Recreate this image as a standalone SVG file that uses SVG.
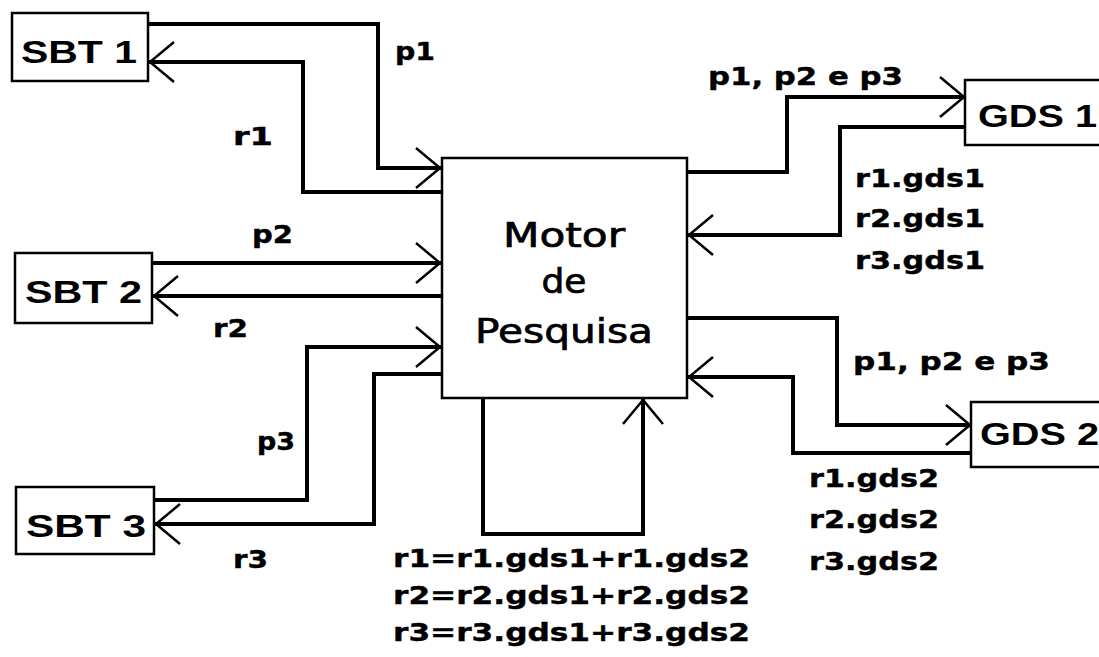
<svg xmlns="http://www.w3.org/2000/svg" width="1099" height="657" viewBox="0 0 1099 657">
<style>
.box{fill:#fff;stroke:#000;stroke-width:2.5}
.name{font-family:"Liberation Sans",Arial,sans-serif;font-weight:bold;font-size:31px;fill:#000}
.motor{font-family:"DejaVu Sans",Verdana,sans-serif;font-size:33px;fill:#000;stroke:#000;stroke-width:0.7;text-anchor:middle}
.lbl{font-family:"DejaVu Sans",Verdana,sans-serif;font-weight:bold;font-size:24px;fill:#000;stroke:#000;stroke-width:0.4}
.ln{fill:none;stroke:#000;stroke-width:4;stroke-linejoin:miter;stroke-linecap:square}
</style>
<defs>
<marker id="arr" markerUnits="userSpaceOnUse" markerWidth="40" markerHeight="50" viewBox="-30 -25 40 50" refX="0" refY="0" orient="auto" overflow="visible">
<path d="M-24,-20 L0,0 L-24,20" fill="none" stroke="#000" stroke-width="2.5"/>
</marker>
</defs>
<rect width="1099" height="657" fill="#fff"/>
<g id="connectors">
<path class="ln" d="M150,24 H378 V168 H440" marker-end="url(#arr)"/>
<path class="ln" d="M442,192 H303 V62 H150" marker-end="url(#arr)"/>
<path class="ln" d="M153,263 H440" marker-end="url(#arr)"/>
<path class="ln" d="M442,296 H154" marker-end="url(#arr)"/>
<path class="ln" d="M155,500 H307 V347 H440" marker-end="url(#arr)"/>
<path class="ln" d="M442,374 H374 V524 H156" marker-end="url(#arr)"/>
<path class="ln" d="M687,172 H787 V97 H964" marker-end="url(#arr)"/>
<path class="ln" d="M965,127 H840 V235 H689" marker-end="url(#arr)"/>
<path class="ln" d="M687,318 H837 V425 H970" marker-end="url(#arr)"/>
<path class="ln" d="M971,453 H793 V377 H689" marker-end="url(#arr)"/>
<path class="ln" d="M483,400 V534 H643 V400" marker-end="url(#arr)"/>
</g>
<g id="sbt1">
<rect class="box" x="12" y="13" width="136" height="68"/>
<text class="name" x="21" y="63" textLength="116" lengthAdjust="spacingAndGlyphs">SBT 1</text>
</g>
<g id="sbt2">
<rect class="box" x="15" y="253" width="137" height="70"/>
<text class="name" x="25" y="303" textLength="117" lengthAdjust="spacingAndGlyphs">SBT 2</text>
</g>
<g id="sbt3">
<rect class="box" x="16" y="487" width="138" height="67"/>
<text class="name" x="26" y="537" textLength="120" lengthAdjust="spacingAndGlyphs">SBT 3</text>
</g>
<g id="motor">
<rect class="box" x="442" y="158" width="245" height="240"/>
<text class="motor" x="564" y="247" textLength="122" lengthAdjust="spacingAndGlyphs">Motor</text>
<text class="motor" x="564" y="293" textLength="45" lengthAdjust="spacingAndGlyphs">de</text>
<text class="motor" x="564" y="343" textLength="178" lengthAdjust="spacingAndGlyphs">Pesquisa</text>
</g>
<g id="gds1">
<rect class="box" x="965" y="80" width="145" height="65"/>
<text class="name" x="978" y="127" textLength="119" lengthAdjust="spacingAndGlyphs">GDS 1</text>
</g>
<g id="gds2">
<rect class="box" x="971" y="402" width="140" height="65"/>
<text class="name" x="980" y="445" textLength="119" lengthAdjust="spacingAndGlyphs">GDS 2</text>
</g>
<g id="labels">
<text class="lbl" x="395" y="60" textLength="40" lengthAdjust="spacingAndGlyphs">p1</text>
<text class="lbl" x="233" y="145" textLength="40" lengthAdjust="spacingAndGlyphs">r1</text>
<text class="lbl" x="252" y="243" textLength="41" lengthAdjust="spacingAndGlyphs">p2</text>
<text class="lbl" x="213" y="337" textLength="35" lengthAdjust="spacingAndGlyphs">r2</text>
<text class="lbl" x="257" y="450" textLength="38" lengthAdjust="spacingAndGlyphs">p3</text>
<text class="lbl" x="233" y="568" textLength="35" lengthAdjust="spacingAndGlyphs">r3</text>
<text class="lbl" x="708" y="85" textLength="195" lengthAdjust="spacingAndGlyphs">p1, p2 e p3</text>
<text class="lbl" x="855" y="187" textLength="130" lengthAdjust="spacingAndGlyphs">r1.gds1</text>
<text class="lbl" x="855" y="227" textLength="130" lengthAdjust="spacingAndGlyphs">r2.gds1</text>
<text class="lbl" x="855" y="269" textLength="130" lengthAdjust="spacingAndGlyphs">r3.gds1</text>
<text class="lbl" x="853" y="370" textLength="197" lengthAdjust="spacingAndGlyphs">p1, p2 e p3</text>
<text class="lbl" x="809" y="487" textLength="130" lengthAdjust="spacingAndGlyphs">r1.gds2</text>
<text class="lbl" x="809" y="528" textLength="130" lengthAdjust="spacingAndGlyphs">r2.gds2</text>
<text class="lbl" x="809" y="570" textLength="130" lengthAdjust="spacingAndGlyphs">r3.gds2</text>
<text class="lbl" x="393" y="567" textLength="357" lengthAdjust="spacingAndGlyphs">r1=r1.gds1+r1.gds2</text>
<text class="lbl" x="393" y="604" textLength="357" lengthAdjust="spacingAndGlyphs">r2=r2.gds1+r2.gds2</text>
<text class="lbl" x="393" y="641" textLength="357" lengthAdjust="spacingAndGlyphs">r3=r3.gds1+r3.gds2</text>
</g>
</svg>
